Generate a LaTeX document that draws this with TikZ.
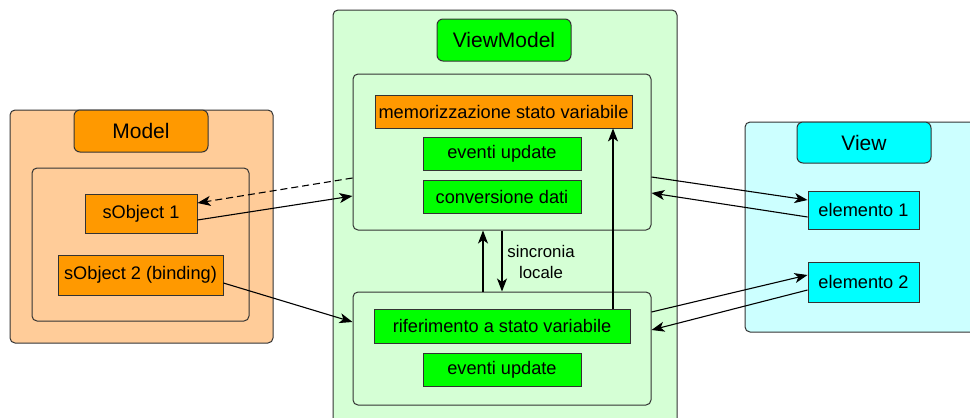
\documentclass[tikz,border=0pt]{standalone}
\usepackage{fontspec}
\setmainfont{Liberation Sans}
\usetikzlibrary{arrows.meta,calc}
\definecolor{morange}{HTML}{FF9900}
\definecolor{mlorange}{HTML}{FFCC99}
\definecolor{vgreen}{HTML}{00FF00}
\definecolor{vlgreen}{HTML}{D5FFD5}
\definecolor{vcyan}{HTML}{00FFFF}
\definecolor{vlcyan}{HTML}{CCFFFF}
\definecolor{edge}{HTML}{333333}
\tikzset{
  outerbox/.style={draw=edge, line width=1pt, rounded corners=5pt, inner sep=0pt},
  innerbox/.style={draw=edge, line width=1pt, rounded corners=5pt, inner sep=0pt},
  titlebox/.style={draw=edge, line width=1pt, rounded corners=6pt, inner sep=0pt, font=\fontsize{21}{24}\selectfont},
  itembox/.style={draw=edge, line width=0.9pt, inner sep=0pt, font=\fontsize{18.2}{21}\selectfont},
  conn/.style={line width=1.1pt, -{Stealth[length=13pt,width=10pt,inset=3.5pt]}},
  lbl/.style={font=\fontsize{16.8}{21}\selectfont, align=center, inner sep=0pt}
}
\begin{document}
\begin{tikzpicture}[x=1pt,y=-1pt]
\useasboundingbox (0,0) rectangle (970,418);
\begin{scope}
\clip (0,0) rectangle (970,418);
% Model
\node[outerbox, fill=mlorange, minimum width=263pt, minimum height=233pt] (model) at (141.5,226.5) {};
\node[innerbox, fill=mlorange, minimum width=217pt, minimum height=153pt] (modelin) at (140.5,244.5) {};
\node[titlebox, fill=morange, minimum width=134pt, minimum height=42pt] (modelt) at (141,131) {Model};
\node[itembox, fill=morange, minimum width=112pt, minimum height=39pt] (sobj1) at (141,213.5) {sObject 1};
\node[itembox, fill=morange, minimum width=165pt, minimum height=40pt] (sobj2) at (140.5,275) {sObject 2 (binding)};
% ViewModel
\node[outerbox, fill=vlgreen, minimum width=344pt, minimum height=415pt] (vm) at (505,217.5) {};
\node[titlebox, fill=vgreen, minimum width=134pt, minimum height=42pt] (vmt) at (504,40) {ViewModel};
\node[innerbox, fill=vlgreen, minimum width=298pt, minimum height=156pt] (upin) at (502,152) {};
\node[itembox, fill=morange, minimum width=257pt, minimum height=33pt] (memo) at (503.5,111.5) {memorizzazione stato variabile};
\node[itembox, fill=vgreen, minimum width=158pt, minimum height=33pt] (ev1) at (502,153.5) {eventi update};
\node[itembox, fill=vgreen, minimum width=158pt, minimum height=33pt] (conv) at (502,196.5) {conversione dati};
\node[innerbox, fill=vlgreen, minimum width=298pt, minimum height=113pt] (lowin) at (502,348.5) {};
\node[itembox, fill=vgreen, minimum width=256pt, minimum height=34pt] (rif) at (502,326) {riferimento a stato variabile};
\node[itembox, fill=vgreen, minimum width=158pt, minimum height=33pt] (ev2) at (502,369.5) {eventi update};
\node[lbl] (sync) at (541,262) {sincronia\\locale};
% View
\node[outerbox, fill=vlcyan, minimum width=235pt, minimum height=210pt] (view) at (862.5,227) {};
\node[titlebox, fill=vcyan, minimum width=134pt, minimum height=41pt] (viewt) at (864,142.5) {View};
\node[itembox, fill=vcyan, minimum width=111pt, minimum height=38pt] (el1) at (863.5,210) {elemento 1};
\node[itembox, fill=vcyan, minimum width=111pt, minimum height=40pt] (el2) at (863.5,282) {elemento 2};
% connectors
\draw[conn, dashed, dash pattern=on 7pt off 4pt] ([yshift=-26pt]upin.west) -- ([yshift=10.5pt]sobj1.east);
\draw[conn] ([yshift=-6.5pt]sobj1.east) -- ([yshift=-44pt]upin.west);
\draw[conn] ([yshift=-8pt]sobj2.east) -- ([yshift=26.5pt]lowin.west);
\draw[conn] ([yshift=-25pt]upin.east) -- ([yshift=10pt]el1.west);
\draw[conn] ([yshift=-7pt]el1.west) -- ([yshift=-41pt]upin.east);
\draw[conn] ([yshift=36.5pt]lowin.east) -- ([yshift=7pt]el2.west);
\draw[conn] ([yshift=-8pt]el2.west) -- ([yshift=18.5pt]lowin.east);
\draw[conn] ([xshift=-19pt]lowin.north) -- ([xshift=-19pt]upin.south);
\draw[conn] (upin.south) -- (lowin.north);
\draw[conn] ([xshift=111pt]rif.north) -- ([xshift=111pt]rif.north |- memo.south);
\end{scope}
\end{tikzpicture}
\end{document}
